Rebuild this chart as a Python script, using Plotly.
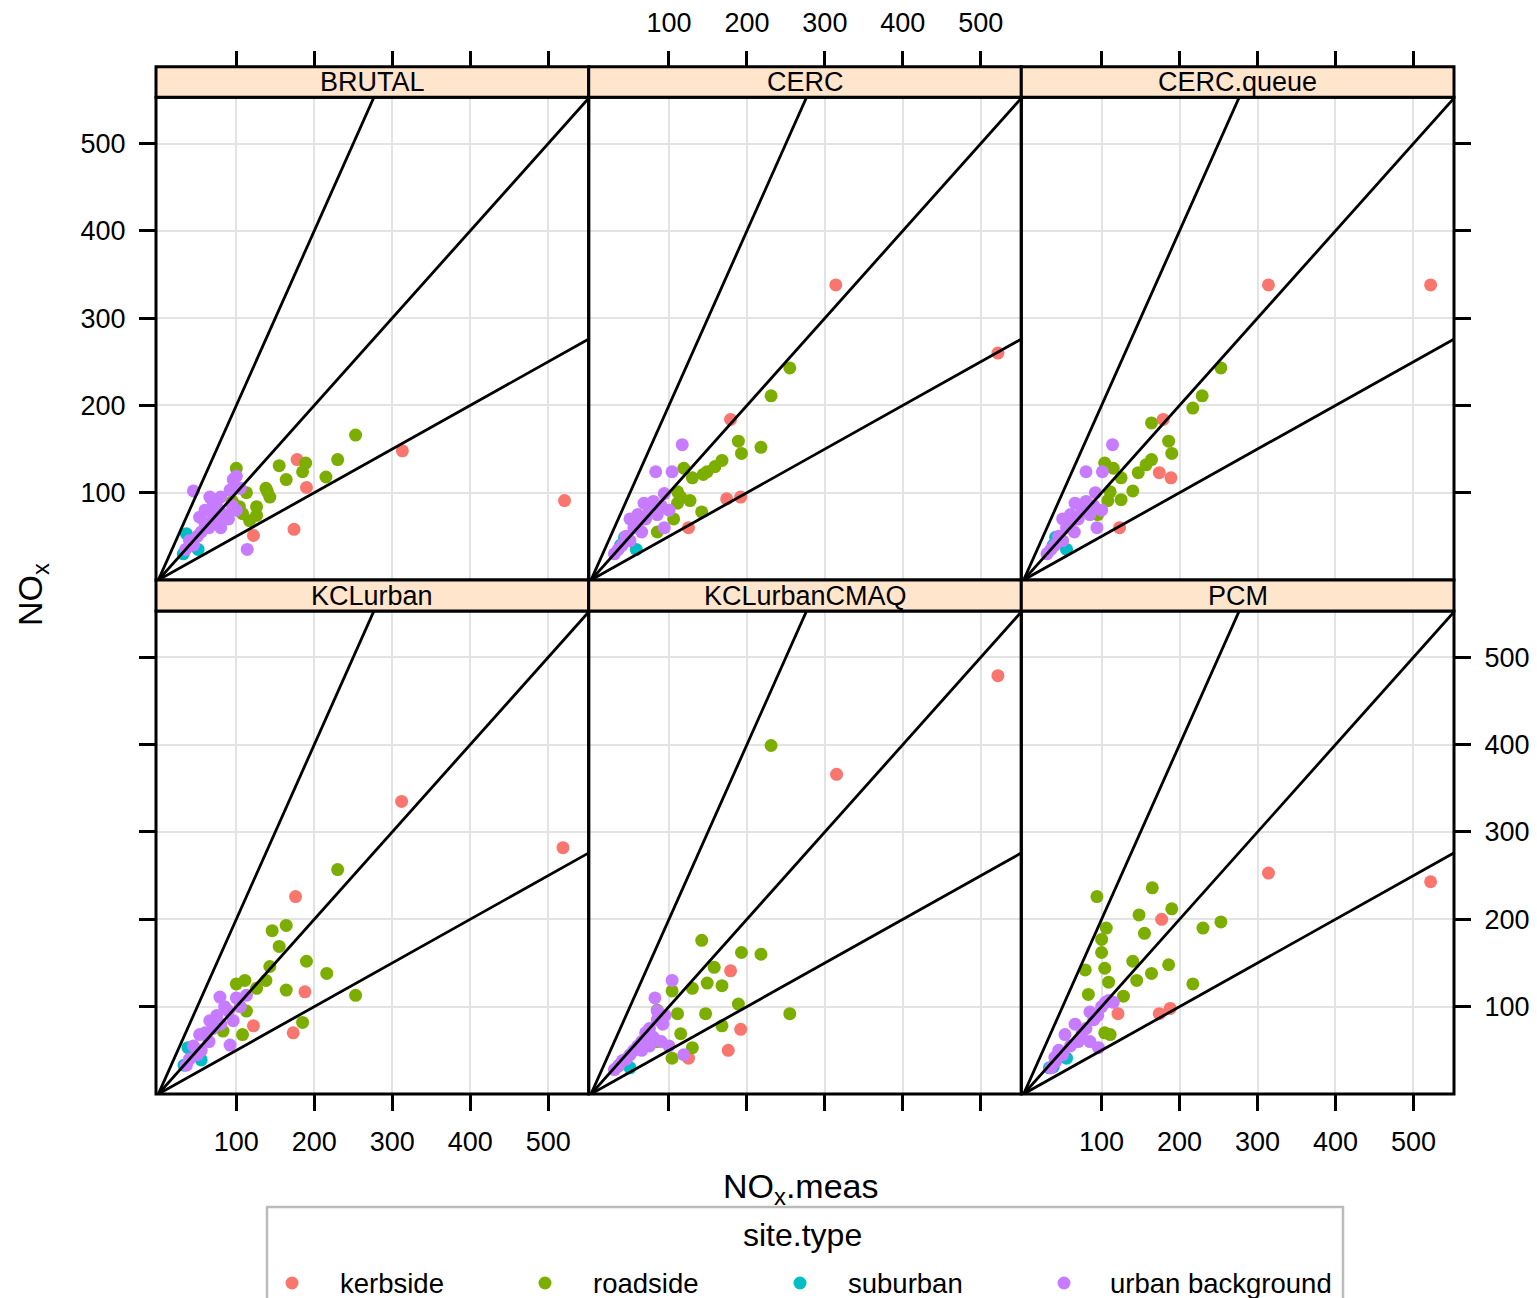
import plotly.graph_objects as go

# ---------------- data ----------------
panels = ["BRUTAL", "CERC", "CERC.queue", "KCLurban", "KCLurbanCMAQ", "PCM"]
site_types = ["kerbside", "roadside", "suburban", "urban background"]
type_colors = ["#F8766D", "#7CAE00", "#00BFC4", "#C77CFF"]
tick_vals = [100, 200, 300, 400, 500]
ref_slopes = [2, 1, 0.5]

# measured NOx (x) and modelled NOx (y) per panel, per site type
kerbside_meas = {
    "BRUTAL": [122, 174, 178, 190, 313, 521],
    "CERC": [125, 174, 179, 192, 314, 522],
    "CERC.queue": [123, 174, 179, 189, 314, 522],
    "KCLurban": [122, 173, 176, 188, 312, 519],
    "KCLurbanCMAQ": [125, 176, 179, 192, 315, 522],
    "PCM": [121, 174, 177, 188, 314, 522],
}
kerbside_nox = {
    "BRUTAL": [51, 58, 138, 106, 148, 91],
    "CERC": [60, 93, 184, 95, 338, 260],
    "CERC.queue": [60, 123, 184, 117, 338, 338],
    "KCLurban": [78, 70, 226, 117, 335, 282],
    "KCLurbanCMAQ": [41, 50, 141, 74, 366, 479],
    "PCM": [92, 92, 200, 98, 253, 243],
}
roadside_meas = {
    "BRUTAL": [253, 230, 215, 189, 185, 155, 164, 138, 143, 140, 100, 113, 126, 108, 117, 126, 104, 95],
    "CERC": [255, 231, 218, 189, 193, 168, 159, 149, 144, 130, 119, 111, 127, 111, 142, 85, 106, 115],
    "CERC.queue": [253, 229, 217, 164, 186, 190, 164, 157, 147, 125, 104, 115, 140, 125, 108, 111, 95],
    "KCLurban": [230, 164, 146, 155, 143, 190, 216, 253, 164, 185, 138, 126, 111, 100, 113, 108, 83],
    "KCLurbanCMAQ": [231, 142, 193, 218, 158, 149, 168, 130, 104, 189, 255, 147, 111, 85, 168, 115, 130, 85, 104],
    "PCM": [165, 94, 190, 148, 253, 230, 106, 155, 100, 100, 140, 186, 164, 145, 217, 79, 104, 109, 83, 128, 104, 111],
}
roadside_nox = {
    "BRUTAL": [166, 138, 118, 134, 124, 131, 115, 105, 95, 101, 128, 100, 84, 76, 68, 74, 84, 90],
    "CERC": [243, 211, 152, 159, 145, 137, 130, 124, 121, 117, 128, 101, 91, 88, 78, 55, 70, 95],
    "CERC.queue": [243, 211, 197, 180, 159, 145, 138, 132, 123, 117, 134, 128, 102, 92, 91, 101, 75],
    "KCLurban": [257, 193, 187, 169, 146, 152, 138, 113, 119, 82, 130, 121, 130, 126, 95, 68, 72],
    "KCLurbanCMAQ": [399, 176, 162, 160, 145, 127, 124, 121, 118, 103, 92, 92, 92, 96, 78, 69, 53, 60, 41],
    "PCM": [236, 226, 212, 205, 197, 190, 190, 184, 177, 162, 152, 148, 138, 130, 126, 142, 144, 128, 114, 112, 70, 68],
}
suburban_meas = {
    "BRUTAL": [51, 36, 32, 42],
    "CERC": [43, 58, 38],
    "CERC.queue": [41, 55, 38],
    "KCLurban": [55, 38, 33],
    "KCLurbanCMAQ": [50, 45, 36],
    "PCM": [38, 55, 33],
}
suburban_nox = {
    "BRUTAL": [35, 53, 30, 40],
    "CERC": [49, 35, 40],
    "CERC.queue": [49, 35, 40],
    "KCLurban": [39, 53, 33],
    "KCLurbanCMAQ": [30, 35, 33],
    "PCM": [31, 41, 30],
}
urban_meas = {
    "BRUTAL": [45, 114, 96, 100, 66, 92, 53, 75, 60, 70, 80, 85, 90, 65, 55, 40, 35, 45, 50, 60, 75, 95, 100, 105, 80, 70],
    "CERC": [117, 83, 104, 94, 68, 94, 60, 50, 55, 70, 75, 80, 85, 45, 40, 35, 50, 65, 90, 100, 30, 60],
    "CERC.queue": [114, 80, 101, 92, 66, 94, 60, 50, 55, 70, 75, 80, 85, 45, 40, 35, 50, 65, 90, 100, 30, 60],
    "KCLurban": [79, 96, 113, 92, 66, 53, 36, 85, 100, 75, 60, 45, 50, 70, 80, 90, 40, 105, 65, 55],
    "KCLurbanCMAQ": [104, 82, 92, 119, 85, 75, 70, 65, 60, 55, 50, 45, 40, 35, 30, 80, 90, 100, 95, 85, 75, 65],
    "PCM": [109, 85, 66, 53, 96, 41, 100, 90, 80, 75, 70, 60, 50, 45, 40, 35, 85, 95, 105, 115],
}
urban_nox = {
    "BRUTAL": [102, 35, 115, 119, 95, 103, 72, 84, 80, 90, 95, 75, 70, 60, 55, 45, 35, 40, 50, 65, 70, 85, 80, 105, 60, 75],
    "CERC": [155, 124, 124, 99, 88, 60, 75, 70, 60, 70, 80, 90, 75, 50, 40, 35, 45, 55, 85, 80, 30, 65],
    "CERC.queue": [155, 124, 124, 100, 88, 60, 75, 70, 60, 70, 80, 90, 75, 50, 40, 35, 45, 55, 85, 80, 30, 65],
    "KCLurban": [111, 84, 113, 56, 84, 68, 33, 100, 110, 90, 70, 55, 45, 75, 80, 95, 40, 100, 60, 50],
    "KCLurbanCMAQ": [130, 110, 80, 45, 85, 75, 70, 60, 55, 50, 45, 40, 38, 32, 28, 65, 60, 55, 90, 95, 55, 50],
    "PCM": [107, 94, 80, 68, 53, 37, 100, 85, 75, 70, 60, 55, 45, 50, 42, 30, 60, 90, 105, 105],
}
type_meas = [kerbside_meas, roadside_meas, suburban_meas, urban_meas]
type_nox = [kerbside_nox, roadside_nox, suburban_nox, urban_nox]

# ---------------- layout geometry (pixels) ----------------
W, H = 1537, 1298
FONT = "Liberation Sans, Arial, sans-serif"
col_px = [(156, 588.7), (588.7, 1021.3), (1021.3, 1454)]
row_px = [(97.3, 580), (611, 1094)]       # plot area (top, bottom)
strip_px = [(66.7, 97.3), (580, 611)]
x_range = [-3, 552]
y_range = [0, 553]
FRAME_W = 3
LINE_W = 2.8
MARKER = 13
key_box_px = (267, 1343, 1207)            # left, right, top of key box
legend_key_px = [292, 545, 800, 1064]     # legend key x positions
legend_text_px = [338, 591, 846, 1108]    # legend label left edges
legend_row_px = 1283

fig = go.Figure()

for i, p in enumerate(panels):
    r, c = divmod(i, 3)
    sfx = "" if i == 0 else str(i + 1)
    for t, name in enumerate(site_types):
        fig.add_trace(go.Scatter(
            x=type_meas[t][p], y=type_nox[t][p], mode="markers",
            marker=dict(color=type_colors[t], size=MARKER, line=dict(width=0)),
            name=name, showlegend=False,
            xaxis="x" + sfx, yaxis="y" + sfx,
        ))
    for s in ref_slopes:
        fig.add_trace(go.Scatter(
            x=[-10, 700], y=[-10 * s, 700 * s], mode="lines",
            line=dict(color="black", width=LINE_W), showlegend=False,
            hoverinfo="skip", xaxis="x" + sfx, yaxis="y" + sfx,
        ))

    xd = [col_px[c][0] / W, col_px[c][1] / W]
    yd = [1 - row_px[r][1] / H, 1 - row_px[r][0] / H]
    show_xlab = (r == 0 and c == 1) or (r == 1 and c in (0, 2))
    show_ylab = (r == 0 and c == 0) or (r == 1 and c == 2)
    axis_common = dict(
        showline=False, showgrid=True, gridcolor="#E3E3E3", gridwidth=2.2,
        zeroline=False, tickvals=tick_vals, ticklen=16, tickwidth=2.7,
        tickcolor="black",
        tickfont=dict(family=FONT, size=27, color="black"),
        ticklabelstandoff=8,
    )
    if r == 0:
        xpos = dict(anchor="free", position=1 - strip_px[0][0] / H, side="top")
    else:
        xpos = dict(anchor="y" + sfx, side="bottom")
    fig.layout["xaxis" + sfx] = dict(
        axis_common, domain=xd, range=x_range, ticks="outside",
        showticklabels=show_xlab, **xpos,
    )
    fig.layout["yaxis" + sfx] = dict(
        axis_common, domain=yd, anchor="x" + sfx, range=y_range,
        side="left" if c == 0 else "right",
        ticks="outside" if c != 1 else "",
        showticklabels=show_ylab,
    )

    # panel frame
    fig.add_shape(type="rect", xref="paper", yref="paper",
                  x0=xd[0], x1=xd[1], y0=yd[0], y1=yd[1],
                  line=dict(color="black", width=FRAME_W), layer="above")
    # strip
    fig.add_shape(type="rect", xref="paper", yref="paper",
                  x0=xd[0], x1=xd[1],
                  y0=1 - strip_px[r][1] / H, y1=1 - strip_px[r][0] / H,
                  fillcolor="#FFE5CC", line=dict(color="black", width=FRAME_W),
                  layer="above")
    fig.add_annotation(text=p, xref="paper", yref="paper",
                       x=(xd[0] + xd[1]) / 2,
                       y=1 - (strip_px[r][0] + strip_px[r][1]) / 2 / H,
                       showarrow=False, xanchor="center", yanchor="middle",
                       font=dict(family=FONT, size=27, color="black"))

# axis titles
fig.add_annotation(text="NO<sub>x</sub>.meas", xref="paper", yref="paper",
                   x=801 / W, y=1 - 1188 / H, showarrow=False,
                   xanchor="center", yanchor="middle",
                   font=dict(family=FONT, size=34, color="black"))
fig.add_annotation(text="NO<sub>x</sub>", xref="paper", yref="paper",
                   x=32 / W, y=1 - 595 / H, showarrow=False, textangle=-90,
                   xanchor="center", yanchor="middle",
                   font=dict(family=FONT, size=34, color="black"))

# ---------------- key (legend) ----------------
kl, kr, kt = key_box_px
fig.layout["xaxis7"] = dict(domain=[kl / W, kr / W], range=[kl, kr],
                            visible=False, anchor="y7", fixedrange=True)
fig.layout["yaxis7"] = dict(domain=[0, 1 - kt / H], range=[H, kt],
                            visible=False, anchor="x7", fixedrange=True)
for t, name in enumerate(site_types):
    fig.add_trace(go.Scatter(
        x=[legend_key_px[t]], y=[legend_row_px], mode="markers",
        marker=dict(color=type_colors[t], size=MARKER, line=dict(width=0)),
        name=name, showlegend=False, hoverinfo="skip", cliponaxis=False,
        xaxis="x7", yaxis="y7",
    ))
    fig.add_annotation(text=name, xref="paper", yref="paper",
                       x=legend_text_px[t] / W, y=1 - legend_row_px / H,
                       showarrow=False, xanchor="left", yanchor="middle",
                       font=dict(family=FONT, size=27.5, color="black"))
fig.add_shape(type="rect", xref="paper", yref="paper",
              x0=kl / W, x1=kr / W, y0=-0.05, y1=1 - kt / H,
              line=dict(color="#BBBBBB", width=2.5), layer="above")
fig.add_annotation(text="site.type", xref="paper", yref="paper",
                   x=802 / W, y=1 - 1235 / H, showarrow=False,
                   xanchor="center", yanchor="middle",
                   font=dict(family=FONT, size=32, color="black"))

fig.update_layout(
    width=W, height=H,
    margin=dict(l=0, r=0, t=0, b=0, autoexpand=False),
    paper_bgcolor="white", plot_bgcolor="rgba(0,0,0,0)",
    font=dict(family=FONT, color="black"),
    showlegend=False,
)

fig.write_html(
    "out.html",
    config={"displayModeBar": False},
    post_script="document.body.style.margin='0';document.body.style.padding='0';document.body.style.overflow='hidden';",
)
